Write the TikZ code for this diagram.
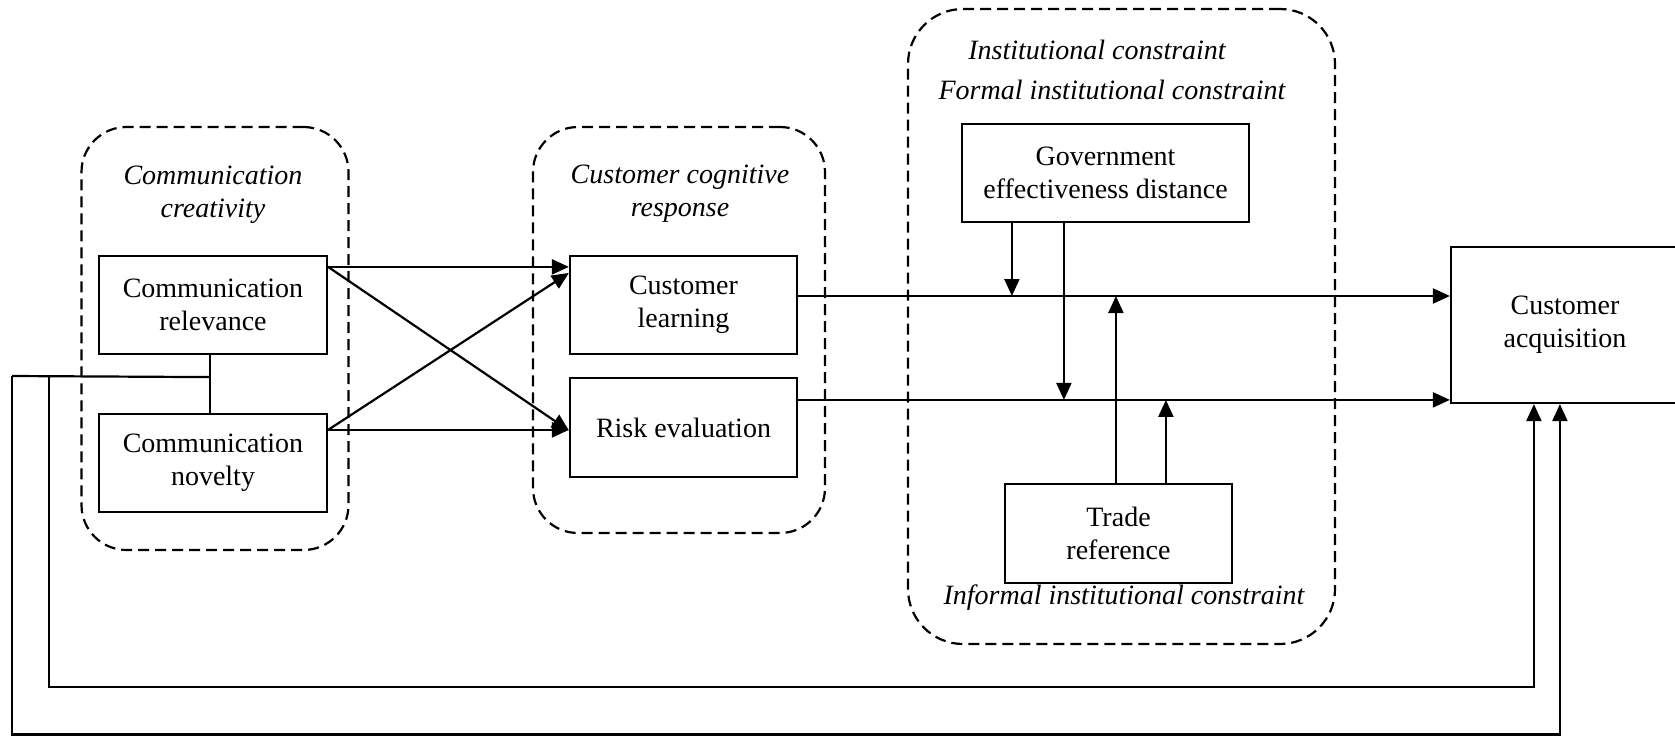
\documentclass[tikz,border=0pt]{standalone}
\usepackage{fontspec}
\setmainfont{Liberation Serif}
\usetikzlibrary{arrows.meta,calc}
\begin{document}
\begin{tikzpicture}[x=1pt,y=-1pt,
  every node/.style={font=\fontsize{28}{33}\selectfont},
  box/.style={draw,line width=2.2pt,align=center,inner sep=0pt},
  group/.style={draw,line width=2.2pt,dash pattern=on 11pt off 6pt,rounded corners=45pt,inner sep=0pt},
  glabel/.style={align=center,inner sep=0pt,font=\fontsize{28}{33}\selectfont\itshape},
  link/.style={line width=2.2pt},
  arr/.style={line width=2.2pt,-{Triangle[length=17pt,width=15pt]}},
]
\useasboundingbox (0,0) rectangle (1675,736);

% dashed groups
\node[group,minimum width=267pt,minimum height=423pt] (cc) at (215,338.5) {};
\node[group,minimum width=292pt,minimum height=406pt] (ccr) at (679,330) {};
\node[group,rounded corners=55pt,minimum width=427pt,minimum height=635pt] (inst) at (1121.5,326.5) {};

% group titles
\node[glabel] (ccl) at (213,195) {Communication\\creativity};
\node[glabel] (ccrl) at (680,194) {Customer cognitive\\response};
\node[glabel] (instl) at (1097,50) {Institutional constraint};
\node[glabel] (forml) at (1112,90) {Formal institutional constraint};
\node[glabel] (infl) at (1124,598) {Informal institutional constraint};

% construct boxes
\node[box,minimum width=228pt,minimum height=98pt] (rel) at (213,305) {Communication\\relevance};
\node[box,minimum width=228pt,minimum height=98pt] (nov) at (213,463) {Communication\\novelty};
\node[box,minimum width=227pt,minimum height=98pt] (learn) at (683.5,305) {Customer\\learning};
\node[box,minimum width=227pt,minimum height=99pt] (risk) at (683.5,427.5) {Risk evaluation};
\node[box,minimum width=287pt,minimum height=98pt] (gov) at (1105.5,173) {Government\\effectiveness distance};
\node[box,minimum width=227pt,minimum height=99pt] (trade) at (1118.5,533.5) {Trade\\reference};
\node[box,minimum width=228pt,minimum height=156pt] (acq) at (1565,325) {Customer\\acquisition};

% creativity -> cognitive response
\coordinate (relo) at ($(rel.north east)+(0,12)$);
\coordinate (novo) at ($(nov.north east)+(0,17)$);
\coordinate (learni) at ($(learn.north west)+(0,12)$);
\coordinate (learnd) at ($(learn.north west)+(0,18)$);
\coordinate (riski) at ($(risk.west)+(0,3)$);
\draw[arr] (relo) -- (learni);
\draw[arr] (relo) -- (riski);
\draw[arr] (novo) -- (novo -| risk.west);
\draw[arr] (novo) -- (learnd);

% cognitive response -> acquisition
\coordinate (learno) at ($(learn.east)+(0,-9)$);
\coordinate (risko) at ($(risk.north east)+(0,23)$);
\draw[arr] (learno) -- (learno -| acq.west);
\draw[arr] (risko) -- (risko -| acq.west);

% moderating paths
\coordinate (g1) at ($(gov.south west)+(51,0)$);
\coordinate (g2) at ($(gov.south west)+(103,0)$);
\coordinate (t1) at ($(trade.north west)+(112,0)$);
\coordinate (t2) at ($(trade.north west)+(162,0)$);
\draw[arr] (g1) -- (g1 |- learno);
\draw[arr] (g2) -- (g2 |- risko);
\draw[arr] (t1) -- (t1 |- learno);
\draw[arr] (t2) -- (t2 |- risko);

% direct feedback paths to acquisition
\coordinate (jtop) at ($(rel.south)+(-3,0)$);
\coordinate (jbot) at ($(nov.north)+(-3,0)$);
\coordinate (jn) at ($(rel.south)+(-3,22)$);
\coordinate (fo) at (12,376);
\coordinate (fi) at (49,376);
\coordinate (fob) at (12,734.5);
\coordinate (fib) at (49,687);
\coordinate (ao) at ($(acq.south west)+(110,0)$);
\coordinate (ai) at ($(acq.south west)+(84,0)$);
\draw[link] (jtop) -- (jbot);
\draw[link] (jn) -- (fo);
\draw[arr] (fo) -- (fob) -| (ao);
\draw[arr] (fi) -- (fib) -| (ai);
\end{tikzpicture}
\end{document}
